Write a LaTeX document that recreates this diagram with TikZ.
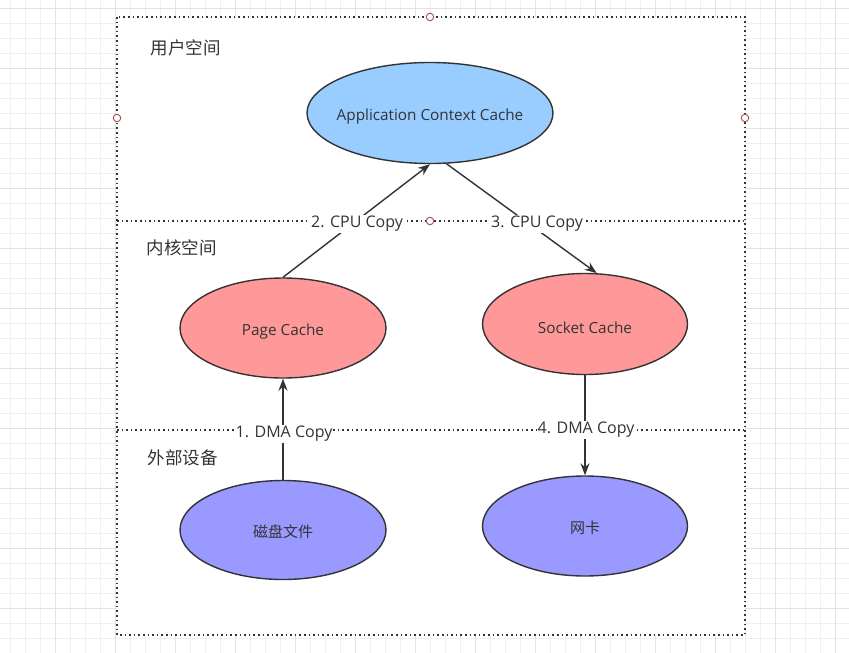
\documentclass[tikz,border=0pt]{standalone}
\usepackage{fontspec}
\setmainfont{Open Sans}
\newfontfamily\cjk{Noto Sans CJK SC}
\usetikzlibrary{arrows.meta,shapes.geometric}
\definecolor{ink}{HTML}{333333}
\definecolor{gridminor}{HTML}{EFEFEF}
\definecolor{gridmajor}{HTML}{E2E2E2}
\definecolor{appblue}{HTML}{99CCFF}
\definecolor{kred}{HTML}{FF9999}
\definecolor{devblue}{HTML}{9999FF}
\definecolor{handle}{HTML}{A05050}
\tikzset{
  cachenode/.style={ellipse, draw=ink, line width=1.4pt, inner sep=0pt, text=ink, font=\fontsize{15.3}{17}\selectfont},
  cachetext/.style={text=ink, inner sep=0pt, font=\fontsize{15.3}{17}\selectfont},
  sectionlabel/.style={anchor=west, text=ink, font=\cjk\fontsize{17.5}{19}\selectfont},
  flowarrow/.style={draw=ink, line width=1.4pt, -{Stealth[length=12pt,width=9pt]}},
  edgelabel/.style={fill=white, inner sep=1pt, text=ink, font=\fontsize{16}{18}\selectfont},
  dottedline/.style={draw=ink, line width=1.6pt, dash pattern=on 1.6pt off 3pt},
  handlept/.style={circle, draw=handle, fill=white, line width=0.9pt, minimum size=7.5pt, inner sep=0pt}
}
\begin{document}
\begin{tikzpicture}[x=1pt,y=-1pt]
\useasboundingbox (0,0) rectangle (849,653);
\fill[white] (0,0) rectangle (849,653);
% grid
\foreach \gx in {10,25,...,850} \draw[gridminor, line width=0.8pt] (\gx,0) -- (\gx,653);
\foreach \gy in {8.3,23.3,...,653} \draw[gridminor, line width=0.8pt] (0,\gy) -- (849,\gy);
\foreach \gx in {55,115,...,850} \draw[gridmajor, line width=1pt] (\gx,0) -- (\gx,653);
\foreach \gy in {8.3,68.3,...,653} \draw[gridmajor, line width=1pt] (0,\gy) -- (849,\gy);
% container
\fill[white] (117,17) rectangle (745,635);
\draw[dottedline] (117,17) rectangle (745,635);
\coordinate (divAL) at (117,221);
\coordinate (divAR) at (745,221);
\coordinate (divBL) at (117,430);
\coordinate (divBR) at (745,430);
\draw[dottedline] (divAL) -- (divAR);
\draw[dottedline] (divBL) -- (divBR);
% section labels
\node[sectionlabel] (user) at (147,48) {用户空间};
\node[sectionlabel] (kernel) at (143,248) {内核空间};
\node[sectionlabel] (device) at (144,458) {外部设备};
% nodes
\node[cachenode, fill=appblue, minimum width=246pt, minimum height=101pt] (app) at (430,113) {};
\node[cachenode, fill=kred, minimum width=206pt, minimum height=100pt] (page) at (283,328) {};
\node[cachenode, fill=kred, minimum width=205pt, minimum height=101pt] (socket) at (585,324) {};
\node[cachenode, fill=devblue, minimum width=206pt, minimum height=99pt] (disk) at (283,530) {};
\node[cachenode, fill=devblue, minimum width=205pt, minimum height=100pt] (nic) at (585,526) {};
\node[cachetext] (appt) at ([yshift=-3.5pt]app.center) {Application Context Cache};
\node[cachetext] (paget) at ([yshift=-3.5pt]page.center) {Page Cache};
\node[cachetext] (sockett) at ([yshift=-3.5pt]socket.center) {Socket Cache};
\node[cachetext, font=\cjk\fontsize{15}{17}\selectfont] (diskt) at ([yshift=-2pt]disk.center) {磁盘文件};
\node[cachetext, font=\cjk\fontsize{15}{17}\selectfont] (nict) at ([yshift=-2pt]nic.center) {网卡};
% arrows
\draw[flowarrow] (page.north) -- (app.south);
\draw[flowarrow] (app.-72) -- (socket.77);
\draw[flowarrow] (disk.north) -- (page.south);
\draw[flowarrow] (socket.south) -- (nic.north);
% edge labels
\node[edgelabel] (l2) at (357,224) {2. CPU Copy};
\node[edgelabel] (l3) at (537,224) {3. CPU Copy};
\node[edgelabel] (l1) at (284,434) {1. DMA Copy};
\node[edgelabel] (l4) at (586,430) {4. DMA Copy};
% handles
\node[handlept] (h1) at (430,17) {};
\node[handlept] (h2) at (117,118) {};
\node[handlept] (h3) at (745,118) {};
\node[handlept] (h4) at (430,221) {};
\end{tikzpicture}
\end{document}
